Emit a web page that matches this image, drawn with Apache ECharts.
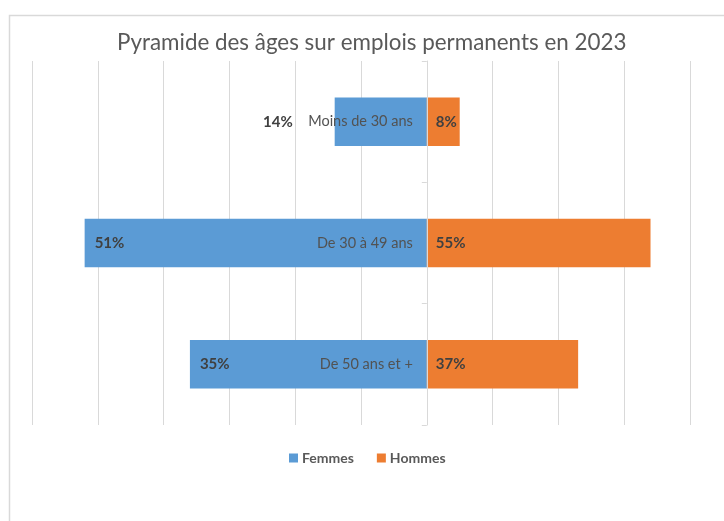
<!DOCTYPE html>
<html>
<head>
<meta charset="utf-8">
<script src="https://cdn.jsdelivr.net/npm/echarts@6/dist/echarts.min.js"></script>
<style>
html,body{margin:0;padding:0;background:#fff;}
#chart{width:724px;height:521px;}
</style>
</head>
<body>
<div id="chart"></div>
<script>
var categories = ["Moins de 30 ans", "De 30 à 49 ans", "De 50 ans et +"];
var femmesValues = [14, 52, 36];
var hommesValues = [5, 34, 23];
var femmesPct = [14, 51, 35];
var hommesPct = [8, 55, 37];
var seriesNames = ["Femmes", "Hommes"];
var titleText = "Pyramide des âges sur emplois permanents en 2023";

var FONT = "Lato";
var chart = echarts.init(document.getElementById('chart'), null, {renderer: 'canvas'});

var femmesData = femmesValues.map(function (v, i) {
  var item = {value: -v};
  if (i === 0) {
    item.label = {position: 'left', distance: 42};
  }
  return item;
});

var GRID_LEFT = 32, X_MIN = -60, X_MAX = 40, GRID_RIGHT = 34;
var plotW = 724 - GRID_LEFT - GRID_RIGHT;
var zeroOffset = plotW * (0 - X_MIN) / (X_MAX - X_MIN);

chart.setOption({
  animation: false,
  backgroundColor: '#ffffff',
  textStyle: {fontFamily: FONT},
  graphic: [{
    type: 'rect', silent: true, z: -10,
    shape: {x: 9.5, y: 15.5, width: 800, height: 600},
    style: {fill: 'none', stroke: '#d9d9d9', lineWidth: 1.5}
  }],
  title: {
    text: titleText,
    left: 117,
    top: 32,
    padding: 0,
    textStyle: {fontFamily: FONT, fontSize: 22.4, fontWeight: 'normal', color: '#595959'}
  },
  legend: {
    data: seriesNames,
    top: 451,
    left: 289,
    padding: 0,
    itemWidth: 9,
    itemHeight: 9,
    itemGap: 23,
    icon: 'rect',
    textStyle: {fontFamily: FONT, fontSize: 14, fontWeight: 'bold', color: '#595959', padding: [0, 0, 0, -1]}
  },
  grid: {left: GRID_LEFT, right: GRID_RIGHT, top: 61, bottom: 96, containLabel: false, outerBoundsMode: 'none'},
  xAxis: {
    type: 'value',
    min: X_MIN, max: X_MAX, interval: 10,
    axisLabel: {show: false},
    axisLine: {show: false},
    axisTick: {show: false},
    splitLine: {show: true, lineStyle: {color: '#d9d9d9', width: 1}}
  },
  yAxis: {
    type: 'category',
    data: categories,
    inverse: true,
    z: 10,
    axisLine: {show: true, onZero: true, lineStyle: {color: '#d9d9d9', width: 1}},
    axisTick: {show: true, length: 5, lineStyle: {color: '#d9d9d9'}},
    axisLabel: {margin: 14 - zeroOffset, fontFamily: FONT, fontSize: 14.5, color: '#525252'}
  },
  series: [{
    name: seriesNames[0],
    type: 'bar',
    stack: 'pyr',
    barWidth: '40%',
    itemStyle: {color: '#5b9bd5'},
    label: {
      show: true, position: 'insideLeft', distance: 10,
      fontFamily: FONT, fontSize: 15, fontWeight: 'bold', color: '#404040',
      formatter: function (p) { return femmesPct[p.dataIndex] + '%'; }
    },
    data: femmesData
  }, {
    name: seriesNames[1],
    type: 'bar',
    stack: 'pyr',
    barWidth: '40%',
    itemStyle: {color: '#ed7d31'},
    label: {
      show: true, position: 'insideLeft', distance: 9,
      fontFamily: FONT, fontSize: 15, fontWeight: 'bold', color: '#404040',
      formatter: function (p) { return hommesPct[p.dataIndex] + '%'; }
    },
    data: hommesValues
  }]
});
</script>
</body>
</html>
